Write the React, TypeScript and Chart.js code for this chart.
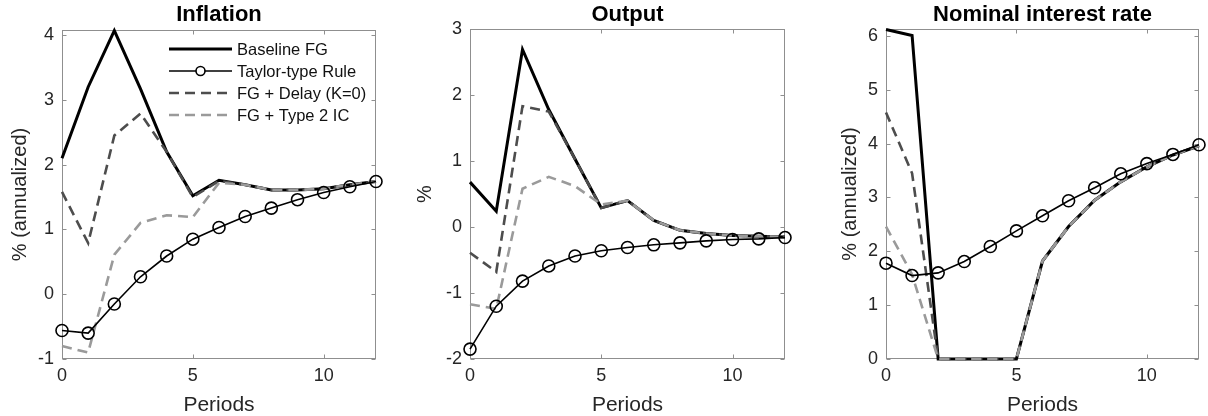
import { useEffect, useRef } from 'react';
import { Chart, registerables } from 'chart.js';

Chart.register(...registerables);

// ---------------- data ----------------
const periods = [0, 1, 2, 3, 4, 5, 6, 7, 8, 9, 10, 11, 12];
const xTicks = [0, 5, 10];
const legendLabels = ['Baseline FG', 'Taylor-type Rule', 'FG + Delay (K=0)', 'FG + Type 2 IC'];

const inflationBaseline = [2.1, 3.2, 4.07, 3.17, 2.2, 1.52, 1.76, 1.69, 1.61, 1.61, 1.63, 1.69, 1.74];
const inflationTaylor = [-0.56, -0.6, -0.15, 0.27, 0.59, 0.85, 1.03, 1.2, 1.33, 1.46, 1.57, 1.66, 1.74];
const inflationDelay = [1.58, 0.79, 2.45, 2.79, 2.2, 1.5, 1.75, 1.69, 1.61, 1.61, 1.63, 1.69, 1.74];
const inflationType2 = [-0.8, -0.9, 0.61, 1.1, 1.22, 1.19, 1.72, 1.69, 1.61, 1.61, 1.63, 1.69, 1.74];
const inflationYTicks = [-1, 0, 1, 2, 3, 4];

const outputBaseline = [0.68, 0.24, 2.69, 1.78, 1.03, 0.29, 0.4, 0.1, -0.05, -0.1, -0.13, -0.14, -0.15];
const outputTaylor = [-1.85, -1.2, -0.82, -0.59, -0.44, -0.36, -0.31, -0.27, -0.24, -0.21, -0.19, -0.18, -0.16];
const outputDelay = [-0.39, -0.68, 1.83, 1.75, 1.03, 0.29, 0.4, 0.1, -0.05, -0.1, -0.13, -0.14, -0.15];
const outputType2 = [-1.17, -1.24, 0.58, 0.76, 0.62, 0.34, 0.4, 0.1, -0.05, -0.1, -0.13, -0.14, -0.15];
const outputYTicks = [-2, -1, 0, 1, 2, 3];

const rateBaseline = [6.12, 6.01, 0, 0, 0, 0, 1.82, 2.46, 2.95, 3.29, 3.57, 3.79, 3.96];
const rateTaylor = [1.78, 1.55, 1.6, 1.81, 2.09, 2.38, 2.66, 2.94, 3.18, 3.44, 3.63, 3.8, 3.98];
const rateDelay = [4.58, 3.45, 0, 0, 0, 0, 1.82, 2.46, 2.95, 3.29, 3.57, 3.79, 3.96];
const rateType2 = [2.46, 1.57, 0, 0, 0, 0, 1.82, 2.46, 2.95, 3.29, 3.57, 3.79, 3.96];
const rateYTicks = [0, 1, 2, 3, 4, 5, 6];

// ---------------- styles ----------------
const FONT = "'Liberation Sans', Arial, Helvetica, sans-serif";
const TICK_COLOR = '#262626';
const BOX_COLOR = '#8f8f8f';

type Style = { color: string; width: number; dash: number[]; marker: boolean; order: number };
const seriesStyles: Style[] = [
  { color: '#000000', width: 3, dash: [], marker: false, order: 3 },
  { color: '#000000', width: 1.6, dash: [], marker: true, order: 0 },
  { color: '#4d4d4d', width: 2.6, dash: [10, 6], marker: false, order: 2 },
  { color: '#9a9a9a', width: 2.6, dash: [10, 6], marker: false, order: 1 },
];

type Panel = {
  title: string;
  yLabel: string;
  yMin: number;
  yMax: number;
  yTicks: number[];
  series: number[][];
  left: number;
  width: number;
  yAxisWidth: number;
  rightPad: number;
  titleBottomPad: number;
  yTitlePad: number;
  legend: boolean;
};

const panels: Panel[] = [
  {
    title: 'Inflation', yLabel: '% (annualized)', yMin: -1, yMax: 4.08, yTicks: inflationYTicks,
    series: [inflationBaseline, inflationTaylor, inflationDelay, inflationType2],
    left: 0, width: 400, yAxisWidth: 62, rightPad: 24, titleBottomPad: 1.8, yTitlePad: 8, legend: true,
  },
  {
    title: 'Output', yLabel: '%', yMin: -2, yMax: 3, yTicks: outputYTicks,
    series: [outputBaseline, outputTaylor, outputDelay, outputType2],
    left: 400, width: 410, yAxisWidth: 70, rightPad: 25, titleBottomPad: 0.8, yTitlePad: 13, legend: false,
  },
  {
    title: 'Nominal interest rate', yLabel: '% (annualized)', yMin: 0, yMax: 6.13, yTicks: rateYTicks,
    series: [rateBaseline, rateTaylor, rateDelay, rateType2],
    left: 810, width: 398, yAxisWidth: 76, rightPad: 9, titleBottomPad: 0.8, yTitlePad: 28, legend: false,
  },
];

// box + inward ticks (drawn beneath data, like MATLAB)
const boxPlugin = {
  id: 'matlabBox',
  beforeDatasetsDraw(chart: any) {
    const { ctx, chartArea: a, scales } = chart;
    ctx.save();
    ctx.strokeStyle = BOX_COLOR;
    ctx.lineWidth = 1;
    const L = Math.round(a.left) + 0.5;
    const R = Math.round(a.right) - 0.5;
    const T = Math.round(a.top) + 0.5;
    const B = Math.round(a.bottom) - 0.5;
    ctx.strokeRect(L, T, R - L, B - T);
    const tl = 4;
    ctx.beginPath();
    for (const t of scales.x.ticks) {
      const px = Math.round(scales.x.getPixelForValue(t.value)) + 0.5;
      ctx.moveTo(px, B);
      ctx.lineTo(px, B - tl);
      ctx.moveTo(px, T);
      ctx.lineTo(px, T + tl);
    }
    for (const t of scales.y.ticks) {
      const py = Math.round(scales.y.getPixelForValue(t.value)) + 0.5;
      ctx.moveTo(L, py);
      ctx.lineTo(L + tl, py);
      ctx.moveTo(R, py);
      ctx.lineTo(R - tl, py);
    }
    ctx.stroke();
    ctx.restore();
  },
};

const legendPlugin = {
  id: 'innerLegend',
  afterDraw(chart: any) {
    const { ctx, chartArea: a } = chart;
    ctx.save();
    const x0 = a.left + 107;
    const x1 = a.left + 170;
    const tx = a.left + 175;
    const rows = [19, 41, 63, 85];
    ctx.font = `16.5px ${FONT}`;
    ctx.textBaseline = 'middle';
    ctx.textAlign = 'left';
    legendLabels.forEach((lab, i) => {
      const s = seriesStyles[i];
      const y = a.top + rows[i];
      ctx.strokeStyle = s.color;
      ctx.lineWidth = s.width;
      ctx.setLineDash(s.dash);
      ctx.beginPath();
      ctx.moveTo(x0, y);
      ctx.lineTo(x1, y);
      ctx.stroke();
      ctx.setLineDash([]);
      if (s.marker) {
        ctx.fillStyle = '#ffffff';
        ctx.beginPath();
        ctx.arc((x0 + x1) / 2, y, 4.5, 0, Math.PI * 2);
        ctx.fill();
        ctx.stroke();
      }
      ctx.fillStyle = '#111111';
      ctx.fillText(lab, tx, y + 1);
    });
    ctx.restore();
  },
};

function PanelChart({ p }: { p: Panel }) {
  const ref = useRef<HTMLCanvasElement | null>(null);
  useEffect(() => {
    if (!ref.current) return;
    const datasets = p.series.map((vals, i) => {
      const s = seriesStyles[i];
      return {
        label: legendLabels[i],
        data: periods.map((x, j) => ({ x, y: vals[j] })),
        borderColor: s.color,
        backgroundColor: 'rgba(0,0,0,0)',
        borderWidth: s.width,
        borderDash: s.dash,
        pointRadius: s.marker ? 6 : 0,
        pointBorderWidth: 1.6,
        pointBorderColor: s.color,
        pointBackgroundColor: 'rgba(0,0,0,0)',
        pointHoverRadius: 0,
        tension: 0,
        fill: false,
        clip: false as any,
        order: s.order,
      };
    });
    const chart = new Chart(ref.current, {
      type: 'line',
      data: { datasets },
      options: {
        animation: false,
        responsive: false,
        maintainAspectRatio: false,
        events: [],
        layout: { padding: { left: 0, right: p.rightPad, top: 1.8, bottom: 0 } },
        plugins: {
          legend: { display: false },
          tooltip: { enabled: false },
          title: {
            display: true,
            fullSize: false,
            text: p.title,
            color: '#000000',
            font: { family: FONT, size: 22, weight: 'bold' },
            padding: { top: 0, bottom: p.titleBottomPad },
          },
        },
        scales: {
          x: {
            type: 'linear',
            min: 0,
            max: 12,
            grid: { display: false, drawTicks: false },
            border: { display: false },
            afterBuildTicks: (s: any) => {
              s.ticks = xTicks.map((v) => ({ value: v }));
            },
            afterFit: (s: any) => {
              s.height = 57;
            },
            ticks: {
              color: TICK_COLOR,
              font: { family: FONT, size: 18 },
              padding: 6,
              maxRotation: 0,
              autoSkip: false,
            },
            title: {
              display: true,
              text: 'Periods',
              color: TICK_COLOR,
              font: { family: FONT, size: 21 },
              padding: { top: 0, bottom: -2 },
            },
          },
          y: {
            type: 'linear',
            min: p.yMin,
            max: p.yMax,
            grid: { display: false, drawTicks: false },
            border: { display: false },
            afterBuildTicks: (s: any) => {
              s.ticks = p.yTicks.map((v) => ({ value: v }));
            },
            afterFit: (s: any) => {
              s.width = p.yAxisWidth;
            },
            ticks: {
              color: TICK_COLOR,
              font: { family: FONT, size: 18 },
              padding: 8,
              autoSkip: false,
            },
            title: {
              display: true,
              text: p.yLabel,
              color: TICK_COLOR,
              font: { family: FONT, size: 20 },
              padding: { top: p.yTitlePad, bottom: 0 },
            },
          },
        },
      } as any,
      plugins: p.legend ? [boxPlugin, legendPlugin] : [boxPlugin],
    });
    return () => chart.destroy();
  }, [p]);
  return (
    <canvas
      ref={ref}
      width={p.width}
      height={416}
      style={{ position: 'absolute', left: p.left, top: 0, width: p.width, height: 416 }}
    />
  );
}

export default function App() {
  return (
    <div style={{ position: 'fixed', left: 0, top: 0, width: 1208, height: 416, background: '#ffffff' }}>
      {panels.map((p, i) => (
        <PanelChart key={i} p={p} />
      ))}
    </div>
  );
}
